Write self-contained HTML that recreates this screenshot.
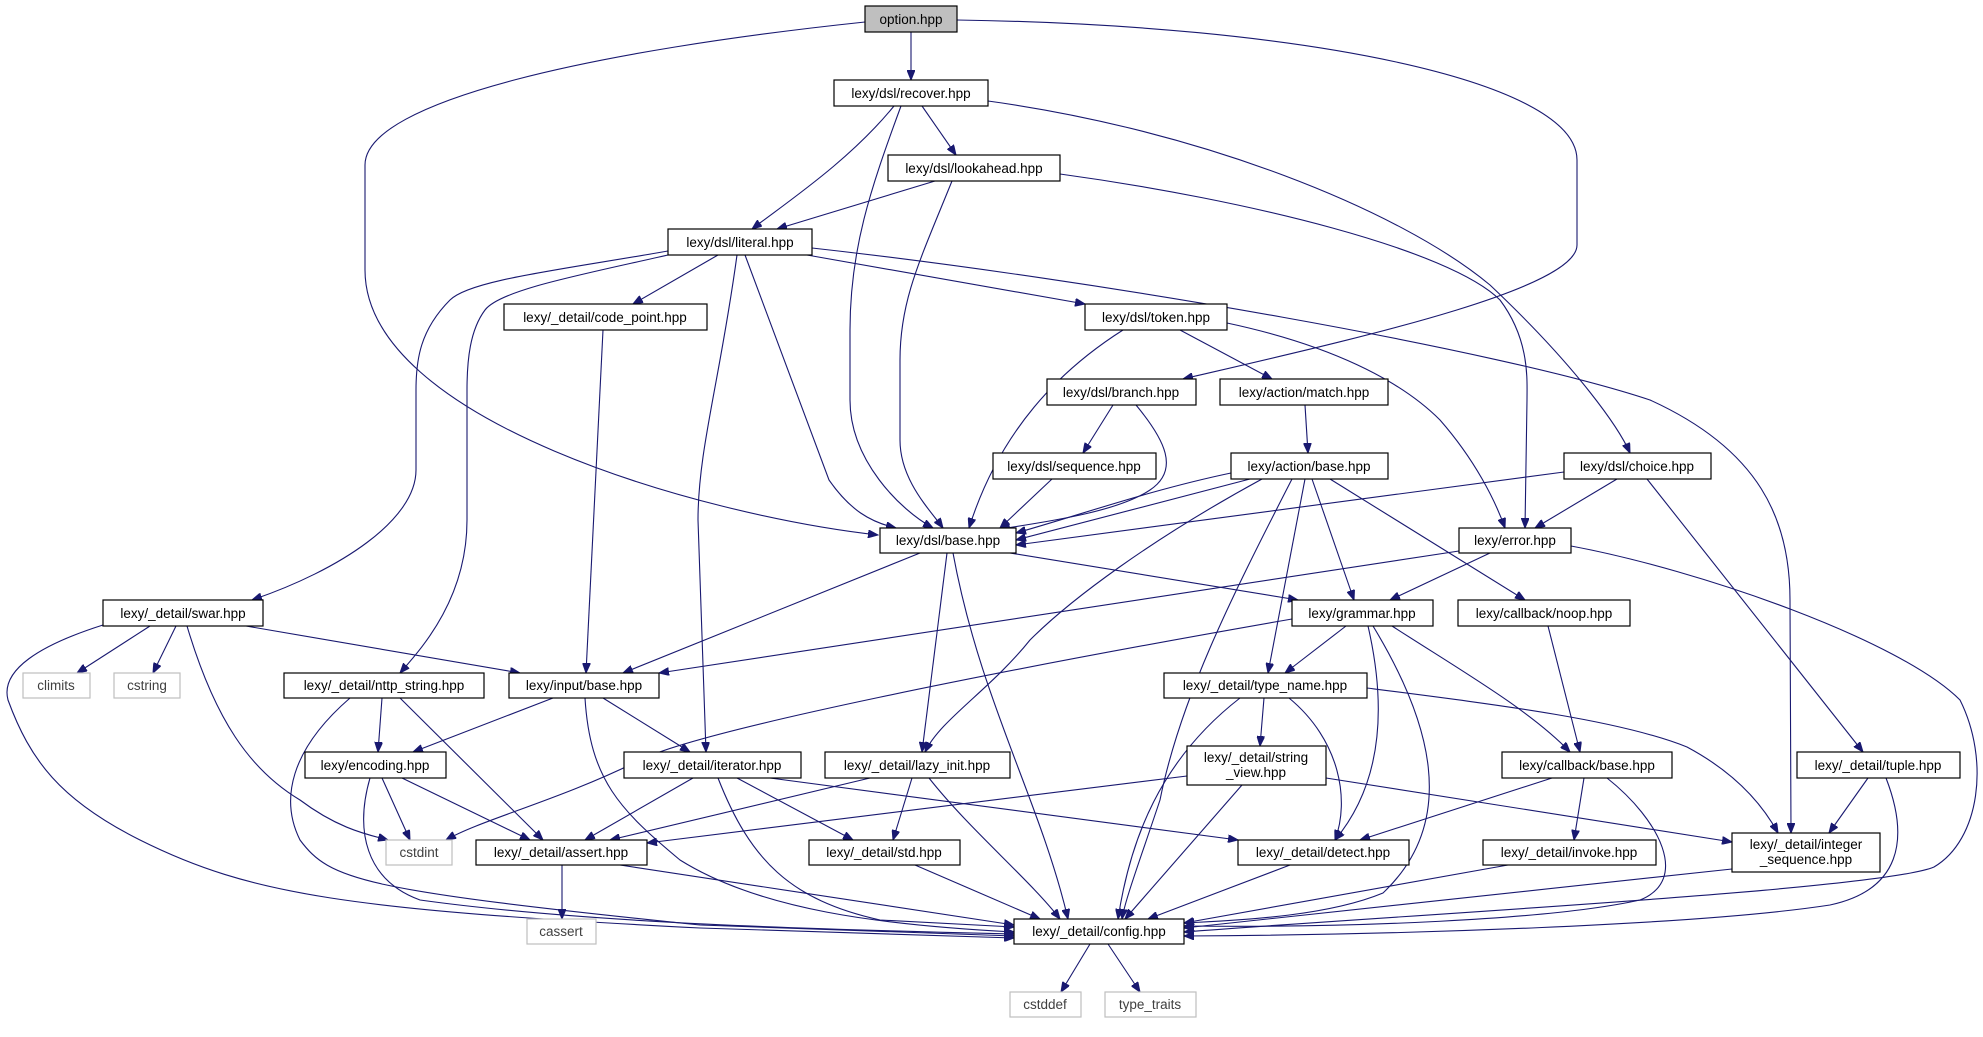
<!DOCTYPE html>
<html><head><meta charset="utf-8"><style>
html,body{margin:0;padding:0;background:#fff;}
svg{display:block}
text{font-family:"Liberation Sans",sans-serif;font-size:13.5px;text-anchor:middle;fill:#000}
.g text{fill:#404040}
.e path{fill:none;stroke:#191970;stroke-width:1.1}
</style></head><body>
<svg width="1983" height="1037" viewBox="0 0 1983 1037" xmlns="http://www.w3.org/2000/svg">
<defs><marker id="a" markerUnits="userSpaceOnUse" markerWidth="11" markerHeight="8" refX="10" refY="4" orient="auto"><path d="M0,0 L10,4 L0,8 z" fill="#191970" stroke="#191970"/></marker></defs>
<g class="e" marker-end="url(#a)">
<path d="M911,32 L911,80"/>
<path d="M865,22 C600,50 365,100 365,165 L365,270 C365,420 700,515 878,535"/>
<path d="M957,20 C1300,25 1577,80 1577,160 L1577,245 C1577,290 1350,340 1183,379"/>
<path d="M894,106 C850,160 790,200 752,229"/>
<path d="M901,106 C870,190 850,250 850,330 L850,400 C850,460 900,510 933,528"/>
<path d="M922,106 L956,155"/>
<path d="M988,101 C1200,130 1400,210 1490,285 C1580,370 1620,430 1630,453"/>
<path d="M935,181 L777,229"/>
<path d="M952,181 C920,260 900,300 900,360 L900,440 C900,480 930,510 943,528"/>
<path d="M1060,174 C1250,200 1450,250 1500,300 C1530,340 1527,380 1527,400 L1525,528"/>
<path d="M668,251 C560,270 470,280 450,300 C420,330 416,360 416,390 L416,470 C416,520 340,570 252,600"/>
<path d="M668,255 C580,275 500,290 485,310 C470,330 467,360 467,390 L467,520 C467,600 420,650 400,673"/>
<path d="M718,255 L633,304"/>
<path d="M737,255 C720,380 698,450 698,520 L706,752"/>
<path d="M745,255 L829,480 C850,510 870,522 896,528"/>
<path d="M807,255 L1085,304"/>
<path d="M812,248 C1100,280 1500,350 1650,400 C1760,450 1790,520 1790,600 L1791,833"/>
<path d="M603,330 L586,673"/>
<path d="M1123,330 C1060,370 1000,430 969,528"/>
<path d="M1180,330 L1272,379"/>
<path d="M1227,323 C1330,345 1400,380 1440,420 C1475,460 1495,500 1505,528"/>
<path d="M1113,405 L1083,453"/>
<path d="M1136,405 C1165,440 1180,470 1150,490 C1120,510 1060,520 1000,529"/>
<path d="M1305,405 L1308,453"/>
<path d="M1052,479 L1000,528"/>
<path d="M1231,473 C1150,490 1080,515 1016,533"/>
<path d="M1250,479 L1016,540"/>
<path d="M1564,472 L1016,545"/>
<path d="M1262,479 C1150,540 1070,600 1030,640 C990,690 940,720 925,752"/>
<path d="M1292,479 C1230,600 1180,700 1160,800 C1140,860 1125,900 1122,919"/>
<path d="M1305,479 L1268,673"/>
<path d="M1312,479 L1354,600"/>
<path d="M1330,479 L1525,600"/>
<path d="M1617,479 L1535,528"/>
<path d="M1647,479 L1863,752"/>
<path d="M920,553 L623,673"/>
<path d="M947,553 L922,752"/>
<path d="M953,553 C980,700 1040,800 1068,919"/>
<path d="M1010,553 L1298,600"/>
<path d="M1459,551 L659,673"/>
<path d="M1490,553 L1390,600"/>
<path d="M1571,546 C1700,570 1900,640 1960,700 C1990,760 1980,840 1934,867 C1880,890 1400,915 1184,932"/>
<path d="M150,626 L77,673"/>
<path d="M176,626 L153,673"/>
<path d="M187,626 C215,720 250,770 300,800 C340,830 370,835 388,840"/>
<path d="M246,626 L520,673"/>
<path d="M103,625 C40,645 0,670 8,700 C30,760 60,800 140,840 C250,895 350,910 700,928 L1014,938"/>
<path d="M382,698 L378,752"/>
<path d="M400,698 L543,840"/>
<path d="M350,698 C290,750 280,800 300,840 C330,880 360,890 700,925 L1014,936"/>
<path d="M553,698 L413,752"/>
<path d="M603,698 L690,752"/>
<path d="M585,698 C590,780 620,810 680,860 C760,910 880,925 1014,932"/>
<path d="M1292,619 C1000,670 700,730 640,760 C560,800 480,820 446,840"/>
<path d="M1346,626 L1285,673"/>
<path d="M1368,626 C1385,700 1385,780 1335,840"/>
<path d="M1373,626 C1430,720 1460,820 1383,893 C1330,915 1250,920 1184,923"/>
<path d="M1392,626 C1460,670 1530,710 1570,752"/>
<path d="M1548,626 L1580,752"/>
<path d="M1264,698 L1260,746"/>
<path d="M1289,698 C1340,740 1350,800 1335,840"/>
<path d="M1240,698 C1160,760 1130,840 1118,919"/>
<path d="M1367,688 C1500,705 1620,720 1687,747 C1730,770 1760,800 1778,833"/>
<path d="M1187,776 L647,843"/>
<path d="M1242,785 L1125,919"/>
<path d="M1326,778 L1732,842"/>
<path d="M1552,778 L1360,840"/>
<path d="M1584,778 L1574,840"/>
<path d="M1607,778 C1660,820 1690,880 1640,900 C1550,920 1350,928 1184,926"/>
<path d="M1868,778 L1829,833"/>
<path d="M1886,778 C1910,840 1900,890 1830,905 C1700,925 1400,935 1184,936"/>
<path d="M1732,869 L1184,928"/>
<path d="M1508,865 L1184,923"/>
<path d="M1290,865 L1148,919"/>
<path d="M693,778 L585,840"/>
<path d="M737,778 L853,840"/>
<path d="M770,778 L1238,840"/>
<path d="M718,778 C750,860 790,900 880,920 L1014,927"/>
<path d="M870,778 L610,840"/>
<path d="M912,778 L893,840"/>
<path d="M929,778 C970,830 1030,880 1060,919"/>
<path d="M382,778 L410,840"/>
<path d="M402,778 L530,840"/>
<path d="M370,778 C355,830 365,880 420,900 C600,925 850,930 1014,934"/>
<path d="M562,865 L562,919"/>
<path d="M620,865 L1014,925"/>
<path d="M915,865 L1040,919"/>
<path d="M1090,944 L1061,992"/>
<path d="M1108,944 L1140,992"/>
</g>
<g fill="#fff" stroke="#000" stroke-width="1.2">
<rect x="865" y="6" width="92" height="26" fill="#bfbfbf"/>
<rect x="834" y="80" width="154" height="26"/>
<rect x="888" y="155" width="172" height="26"/>
<rect x="668" y="229" width="144" height="26"/>
<rect x="504" y="304" width="203" height="26"/>
<rect x="1085" y="304" width="142" height="26"/>
<rect x="1047" y="379" width="149" height="26"/>
<rect x="1220" y="379" width="168" height="26"/>
<rect x="993" y="453" width="163" height="26"/>
<rect x="1231" y="453" width="157" height="26"/>
<rect x="1564" y="453" width="147" height="26"/>
<rect x="880" y="528" width="136" height="25"/>
<rect x="1459" y="528" width="112" height="25"/>
<rect x="103" y="600" width="160" height="26"/>
<rect x="1292" y="600" width="141" height="26"/>
<rect x="1458" y="600" width="172" height="26"/>
<rect x="284" y="673" width="200" height="25"/>
<rect x="509" y="673" width="150" height="25"/>
<rect x="1164" y="673" width="203" height="25"/>
<rect x="305" y="752" width="141" height="26"/>
<rect x="624" y="752" width="177" height="26"/>
<rect x="825" y="752" width="185" height="26"/>
<rect x="1187" y="746" width="139" height="39"/>
<rect x="1502" y="752" width="170" height="26"/>
<rect x="1797" y="752" width="163" height="26"/>
<rect x="476" y="840" width="171" height="25"/>
<rect x="809" y="840" width="151" height="25"/>
<rect x="1238" y="840" width="171" height="25"/>
<rect x="1483" y="840" width="173" height="25"/>
<rect x="1732" y="833" width="148" height="39"/>
<rect x="1014" y="919" width="170" height="25"/>
</g>
<g fill="#fff" stroke="#bfbfbf" stroke-width="1.2">
<rect x="23" y="673" width="67" height="25"/>
<rect x="114" y="673" width="66" height="25"/>
<rect x="386" y="840" width="66" height="25"/>
<rect x="527" y="919" width="69" height="25"/>
<rect x="1010" y="992" width="71" height="25"/>
<rect x="1105" y="992" width="91" height="25"/>
</g>
<g>
<text x="911" y="24">option.hpp</text>
<text x="911" y="98">lexy/dsl/recover.hpp</text>
<text x="974" y="173">lexy/dsl/lookahead.hpp</text>
<text x="740" y="247">lexy/dsl/literal.hpp</text>
<text x="605" y="322">lexy/_detail/code_point.hpp</text>
<text x="1156" y="322">lexy/dsl/token.hpp</text>
<text x="1121" y="397">lexy/dsl/branch.hpp</text>
<text x="1304" y="397">lexy/action/match.hpp</text>
<text x="1074" y="471">lexy/dsl/sequence.hpp</text>
<text x="1309" y="471">lexy/action/base.hpp</text>
<text x="1637" y="471">lexy/dsl/choice.hpp</text>
<text x="948" y="545">lexy/dsl/base.hpp</text>
<text x="1515" y="545">lexy/error.hpp</text>
<text x="183" y="618">lexy/_detail/swar.hpp</text>
<text x="1362" y="618">lexy/grammar.hpp</text>
<text x="1544" y="618">lexy/callback/noop.hpp</text>
<text x="384" y="690">lexy/_detail/nttp_string.hpp</text>
<text x="584" y="690">lexy/input/base.hpp</text>
<text x="1265" y="690">lexy/_detail/type_name.hpp</text>
<text x="375" y="770">lexy/encoding.hpp</text>
<text x="712" y="770">lexy/_detail/iterator.hpp</text>
<text x="917" y="770">lexy/_detail/lazy_init.hpp</text>
<text x="1256" y="762">lexy/_detail/string</text>
<text x="1256" y="777">_view.hpp</text>
<text x="1587" y="770">lexy/callback/base.hpp</text>
<text x="1878" y="770">lexy/_detail/tuple.hpp</text>
<text x="561" y="857">lexy/_detail/assert.hpp</text>
<text x="884" y="857">lexy/_detail/std.hpp</text>
<text x="1323" y="857">lexy/_detail/detect.hpp</text>
<text x="1569" y="857">lexy/_detail/invoke.hpp</text>
<text x="1806" y="849">lexy/_detail/integer</text>
<text x="1806" y="864">_sequence.hpp</text>
<text x="1099" y="936">lexy/_detail/config.hpp</text>
</g>
<g class="g">
<text x="56" y="690">climits</text>
<text x="147" y="690">cstring</text>
<text x="419" y="857">cstdint</text>
<text x="561" y="936">cassert</text>
<text x="1045" y="1009">cstddef</text>
<text x="1150" y="1009">type_traits</text>
</g>
</svg>
</body></html>
